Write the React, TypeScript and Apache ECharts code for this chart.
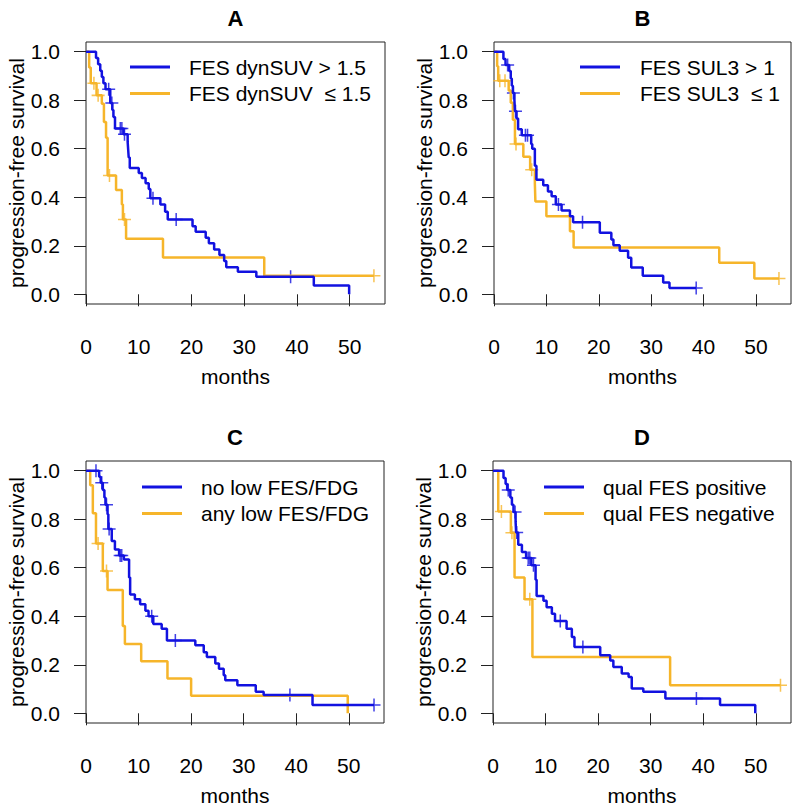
import React, { useEffect, useRef } from "react";
import * as echarts from "echarts";

// ---------- data ----------
const X_TICKS = [0, 10, 20, 30, 40, 50];
const Y_TICKS = [0, 0.2, 0.4, 0.6, 0.8, 1.0];
const PANEL_TITLES = ["A", "B", "C", "D"];
const LEGEND_BLUE = ["FES dynSUV > 1.5", "FES SUL3 > 1", "no low FES/FDG", "qual FES positive"];
const LEGEND_ORANGE = ["FES dynSUV  \u2264 1.5", "FES SUL3  \u2264 1", "any low FES/FDG", "qual FES negative"];
const X_NAME = "months";
const Y_NAME = "progression-free survival";

// Panel A
const aBlueT = [0, 1.9, 2.3, 2.7, 3.0, 3.3, 3.7, 4.6, 5.0, 5.2, 5.5, 7.1, 7.9, 8.0, 8.1, 8.3, 10.0, 10.6, 11.3, 11.9, 12.2, 14.1, 15.0, 15.5, 20.2, 20.8, 22.7, 23.3, 24.3, 25.3, 26.2, 26.6, 28.8, 32.3, 43.2, 49.9];
const aBlueS = [1, 0.974, 0.948, 0.922, 0.896, 0.87, 0.845, 0.789, 0.76, 0.731, 0.683, 0.66, 0.628, 0.596, 0.564, 0.521, 0.5, 0.479, 0.458, 0.434, 0.396, 0.37, 0.34, 0.308, 0.281, 0.258, 0.233, 0.21, 0.185, 0.162, 0.137, 0.111, 0.093, 0.072, 0.036, 0];
const aBlueCens = [4.3, 4.9, 6.5, 6.8, 7.3, 12.7, 17.1, 38.8];
const aOrangeT = [0, 0.6, 0.9, 2.0, 3.0, 3.4, 3.8, 4.1, 5.7, 6.8, 7.0, 7.6, 14.6, 33.8, 54.6];
const aOrangeS = [1, 0.935, 0.87, 0.82, 0.785, 0.71, 0.645, 0.49, 0.43, 0.37, 0.308, 0.229, 0.152, 0.076, 0.076];
const aOrangeCens = [1.5, 2.3, 4.45, 7.3, 54.6];

// Panel B
const bBlueT = [0, 1.8, 2.2, 2.9, 3.2, 3.4, 3.6, 3.9, 4.0, 4.3, 4.6, 5.3, 7.1, 7.3, 7.8, 8.1, 9.4, 10.3, 11.0, 11.8, 12.9, 14.5, 15.1, 20.2, 22.4, 22.8, 24.0, 25.6, 26.2, 28.4, 32.3, 33.5, 38.6];
const bBlueS = [1, 0.97, 0.945, 0.92, 0.89, 0.86, 0.83, 0.8, 0.755, 0.725, 0.68, 0.656, 0.62, 0.6, 0.53, 0.472, 0.45, 0.424, 0.404, 0.37, 0.345, 0.322, 0.297, 0.254, 0.226, 0.202, 0.179, 0.151, 0.11, 0.076, 0.049, 0.026, 0.026];
const bBlueCens = [2.6, 3.7, 4.1, 6.0, 6.4, 12.3, 16.9, 38.6];
const bOrangeT = [0, 0.6, 0.8, 2.8, 3.2, 3.6, 4.0, 5.6, 6.9, 7.8, 7.9, 10.0, 14.5, 15.2, 43.0, 49.7, 54.4];
const bOrangeS = [1, 0.94, 0.88, 0.84, 0.79, 0.72, 0.62, 0.567, 0.513, 0.458, 0.383, 0.322, 0.26, 0.193, 0.13, 0.065, 0.065];
const bOrangeCens = [1.1, 2.1, 4.2, 7.2, 54.4];

// Panel C
const cBlueT = [0, 2.5, 2.8, 3.2, 3.5, 3.7, 4.1, 4.25, 4.9, 5.5, 6.3, 7.2, 8.2, 8.4, 9.3, 10.3, 11.3, 11.9, 12.8, 14.4, 15.4, 20.8, 22.4, 23.0, 24.6, 25.3, 26.2, 26.5, 28.8, 32.3, 33.8, 43.1, 54.8];
const cBlueS = [1, 0.975, 0.95, 0.92, 0.89, 0.86, 0.82, 0.76, 0.71, 0.675, 0.65, 0.634, 0.56, 0.49, 0.47, 0.45, 0.423, 0.4, 0.368, 0.348, 0.3, 0.28, 0.252, 0.232, 0.205, 0.184, 0.157, 0.136, 0.116, 0.089, 0.075, 0.034, 0.034];
const cBlueCens = [1.9, 3.0, 3.9, 4.4, 6.5, 6.8, 12.5, 17.0, 38.8, 54.8];
const cOrangeT = [0, 0.8, 1.3, 1.9, 3.2, 4.1, 7.0, 7.4, 10.5, 15.5, 20.0, 49.8];
const cOrangeS = [1, 0.94, 0.825, 0.7, 0.587, 0.508, 0.36, 0.286, 0.215, 0.143, 0.072, 0];
const cOrangeCens = [2.3, 3.9];

// Panel D
const dBlueT = [0, 2.0, 2.4, 2.7, 3.3, 3.6, 3.9, 4.3, 4.4, 4.8, 5.5, 6.3, 7.3, 8.1, 8.3, 9.6, 10.2, 11.2, 11.8, 14.0, 15.0, 15.5, 20.4, 22.3, 22.9, 24.5, 25.8, 26.4, 28.6, 32.8, 43.2, 49.9];
const dBlueS = [1, 0.97, 0.945, 0.92, 0.89, 0.86, 0.83, 0.79, 0.745, 0.695, 0.665, 0.64, 0.61, 0.55, 0.484, 0.464, 0.437, 0.41, 0.38, 0.348, 0.314, 0.273, 0.239, 0.218, 0.191, 0.164, 0.15, 0.102, 0.089, 0.061, 0.034, 0];
const dBlueCens = [2.9, 4.2, 4.5, 6.7, 7.0, 7.7, 12.8, 17.1, 38.7];
const dOrangeT = [0, 1.0, 3.4, 4.1, 6.0, 7.5, 33.7, 54.7];
const dOrangeS = [1, 0.832, 0.744, 0.56, 0.47, 0.232, 0.116, 0.116];
const dOrangeCens = [1.6, 3.6, 7.0, 54.7];

const BLUE_T = [aBlueT, bBlueT, cBlueT, dBlueT];
const BLUE_S = [aBlueS, bBlueS, cBlueS, dBlueS];
const BLUE_C = [aBlueCens, bBlueCens, cBlueCens, dBlueCens];
const ORANGE_T = [aOrangeT, bOrangeT, cOrangeT, dOrangeT];
const ORANGE_S = [aOrangeS, bOrangeS, cOrangeS, dOrangeS];
const ORANGE_C = [aOrangeCens, bOrangeCens, cOrangeCens, dOrangeCens];

// ---------- layout ----------
const GRIDS = [
  { left: 86, top: 42, width: 299, height: 262 },
  { left: 494, top: 42, width: 297, height: 262 },
  { left: 86, top: 461, width: 298, height: 262 },
  { left: 493, top: 461, width: 298, height: 262 },
];
const LEGEND_POS = [
  { lx: 130, tx: 189, y: 67 },
  { lx: 580, tx: 640, y: 67 },
  { lx: 142, tx: 201, y: 487 },
  { lx: 544, tx: 603, y: 487 },
];
const BLUE = "#1212E0";
const ORANGE = "#F6B52A";
const FONT = "'Liberation Sans', Arial, Helvetica, sans-serif";
const FS = 21;
const PLUS = "path://M5.3,0h1.4v12h-1.4zM0,5.3h12v1.4h-12z";

function stepAt(ts: number[], ss: number[], t: number) {
  let s = ss[0];
  for (let i = 0; i < ts.length; i++) if (ts[i] <= t) s = ss[i];
  return s;
}

export default function App() {
  const ref = useRef<HTMLDivElement>(null);
  useEffect(() => {
    if (!ref.current) return;
    const chart = echarts.init(ref.current, undefined, { renderer: "svg" });
    const grid: any[] = [];
    const xAxis: any[] = [];
    const yAxis: any[] = [];
    const series: any[] = [];
    const graphic: any[] = [];
    GRIDS.forEach((g, i) => {
      grid.push({ ...g, show: true, borderColor: "#222", borderWidth: 1, backgroundColor: "transparent" });
      xAxis.push({
        type: "value", gridIndex: i, min: 0, max: 56.7,
        axisLine: { show: false },
        axisTick: { show: true, length: 12, inside: false, customValues: X_TICKS, lineStyle: { color: "#222", width: 1 } },
        axisLabel: { customValues: X_TICKS, margin: 32, fontSize: FS, color: "#000", fontFamily: FONT },
        splitLine: { show: false },
        name: X_NAME, nameLocation: "middle", nameGap: 62,
        nameTextStyle: { fontSize: FS, color: "#000", fontFamily: FONT },
      });
      yAxis.push({
        type: "value", gridIndex: i, min: -0.04, max: 1.04,
        axisLine: { show: false },
        axisTick: { show: true, length: 12, inside: false, customValues: Y_TICKS, lineStyle: { color: "#222", width: 1 } },
        axisLabel: { customValues: Y_TICKS, margin: 26, fontSize: FS, color: "#000", fontFamily: FONT, formatter: (v: number) => v.toFixed(1) },
        splitLine: { show: false },
        name: Y_NAME, nameLocation: "middle", nameGap: 56,
        nameTextStyle: { fontSize: FS, color: "#000", fontFamily: FONT },
      });
      const groups = [
        { t: ORANGE_T[i], s: ORANGE_S[i], c: ORANGE_C[i], color: ORANGE },
        { t: BLUE_T[i], s: BLUE_S[i], c: BLUE_C[i], color: BLUE },
      ];
      groups.forEach((gr) => {
        series.push({
          type: "line", xAxisIndex: i, yAxisIndex: i, step: "end", showSymbol: false, symbol: "none",
          data: gr.t.map((t, k) => [t, gr.s[k]]),
          lineStyle: { color: gr.color, width: 2.5 }, silent: true,
        });
        series.push({
          type: "scatter", xAxisIndex: i, yAxisIndex: i, symbol: PLUS, symbolSize: 13,
          data: gr.c.map((t) => [t, stepAt(gr.t, gr.s, t)]),
          itemStyle: { color: gr.color }, silent: true,
        });
      });
      graphic.push({
        type: "text", x: g.left + g.width / 2, y: g.top - 24,
        style: { text: PANEL_TITLES[i], fontSize: 22, fontWeight: "bold", fontFamily: FONT, fill: "#000", align: "center", verticalAlign: "middle" },
      });
      const lp = LEGEND_POS[i];
      [
        { y: lp.y, color: BLUE, text: LEGEND_BLUE[i] },
        { y: lp.y + 26.5, color: ORANGE, text: LEGEND_ORANGE[i] },
      ].forEach((row) => {
        graphic.push({ type: "line", shape: { x1: lp.lx, y1: row.y, x2: lp.lx + 40, y2: row.y }, style: { stroke: row.color, lineWidth: 2.8 } });
        graphic.push({
          type: "text", x: lp.tx, y: row.y,
          style: { text: row.text, fontSize: FS, fontFamily: FONT, fill: "#000", align: "left", verticalAlign: "middle" },
        });
      });
    });
    chart.setOption({ animation: false, backgroundColor: "#fff", grid, xAxis, yAxis, series, graphic });
    return () => chart.dispose();
  }, []);
  return <div ref={ref} style={{ position: "fixed", left: 0, top: 0, width: 800, height: 812 }} />;
}
